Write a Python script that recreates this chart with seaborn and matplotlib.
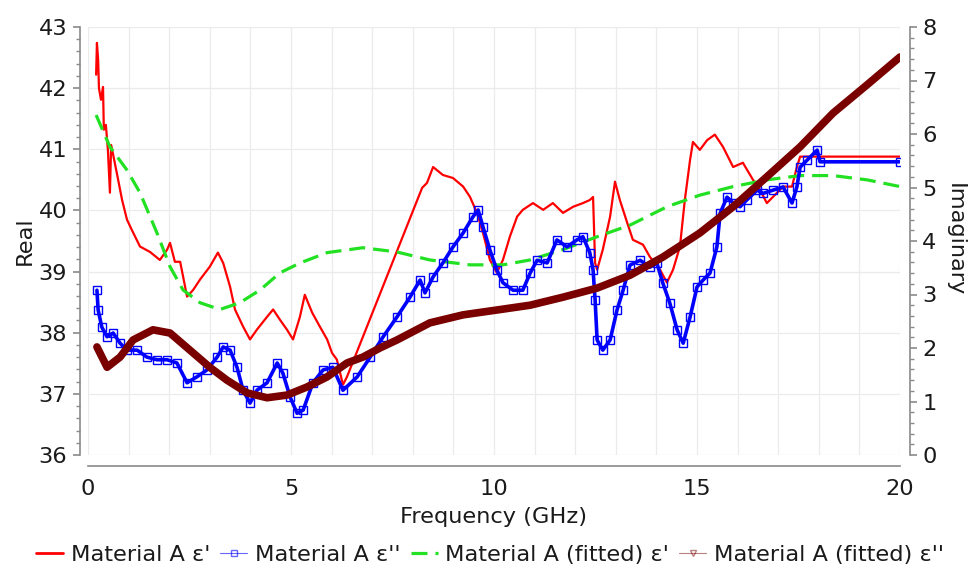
import matplotlib
matplotlib.use("Agg")
import matplotlib.pyplot as plt
from matplotlib.lines import Line2D
from matplotlib.ticker import MultipleLocator
import seaborn as sns

# Material A eps' (measured), left axis
freq_real = [0.20, 0.22, 0.25, 0.27, 0.32, 0.37, 0.39, 0.44, 0.49, 0.54, 0.57, 0.62,
             0.71, 0.84, 0.96, 1.08, 1.28, 1.53, 1.77, 1.95, 2.02, 2.14, 2.27, 2.44,
             2.59, 2.76, 3.00, 3.20, 3.33, 3.50, 3.62, 3.82, 3.99, 4.16, 4.41, 4.56,
             4.73, 4.90, 5.05, 5.22, 5.34, 5.52, 5.71, 5.89, 6.01, 6.13, 6.28, 6.38,
             8.23, 8.35, 8.50, 8.74, 8.99, 9.24, 9.41, 9.58, 9.73, 9.90, 10.07, 10.22,
             10.39, 10.57, 10.71, 10.96, 11.21, 11.45, 11.70, 11.95, 12.19, 12.36, 12.44,
             12.49, 12.54, 12.68, 12.86, 12.98, 13.10, 13.28, 13.42, 13.67, 13.84, 14.09,
             14.26, 14.41, 14.58, 14.70, 14.83, 14.90, 15.07, 15.25, 15.44, 15.64, 15.89,
             16.13, 16.38, 16.55, 16.72, 16.87, 17.12, 17.34, 17.46, 17.54, 20.00]
eps_real = [42.22, 42.74, 42.46, 42.00, 41.81, 42.02, 41.32, 41.40, 40.99, 40.29, 41.07, 40.91,
            40.61, 40.17, 39.85, 39.68, 39.41, 39.32, 39.19, 39.36, 39.47, 39.16, 39.16, 38.59,
            38.70, 38.87, 39.08, 39.31, 39.14, 38.75, 38.38, 38.10, 37.89, 38.05, 38.26, 38.38,
            38.21, 38.05, 37.89, 38.26, 38.62, 38.33, 38.10, 37.89, 37.67, 37.56, 37.15, 37.28,
            40.37, 40.45, 40.71, 40.58, 40.53, 40.39, 40.22, 39.96, 39.63, 39.19, 38.98, 39.19,
            39.57, 39.90, 40.01, 40.12, 40.01, 40.12, 39.96, 40.06, 40.12, 40.17, 40.22,
            39.14, 39.03, 39.36, 39.90, 40.47, 40.17, 39.80, 39.52, 39.44, 39.24, 39.03,
            38.82, 39.03, 39.41, 40.17, 40.83, 41.12, 40.99, 41.15, 41.24, 41.04, 40.71,
            40.78, 40.50, 40.34, 40.12, 40.22, 40.39, 40.39, 40.71, 40.88, 40.88]

# Material A eps'' (measured), right axis
freq_imag = [0.22, 0.25, 0.34, 0.47, 0.62, 0.79, 0.96, 1.21, 1.45, 1.70, 1.95, 2.19,
             2.44, 2.68, 2.93, 3.18, 3.33, 3.50, 3.67, 3.82, 3.99, 4.16, 4.41, 4.66,
             4.80, 4.98, 5.15, 5.30, 5.54, 5.79, 6.03, 6.28, 6.63, 6.95, 7.27, 7.61,
             7.93, 8.18, 8.30, 8.50, 8.74, 8.99, 9.24, 9.48, 9.61, 9.73, 9.90, 10.07,
             10.22, 10.47, 10.71, 10.89, 11.06, 11.31, 11.55, 11.80, 12.04, 12.19, 12.36,
             12.44, 12.49, 12.54, 12.68, 12.86, 13.03, 13.18, 13.35, 13.60, 13.84, 14.01,
             14.16, 14.33, 14.51, 14.66, 14.83, 15.00, 15.15, 15.32, 15.49, 15.57, 15.74,
             15.89, 16.06, 16.23, 16.48, 16.63, 16.87, 17.12, 17.34, 17.46, 17.54, 17.71,
             17.96, 18.03, 20.00]
eps_imag = [3.08, 2.71, 2.39, 2.21, 2.28, 2.09, 1.96, 1.96, 1.83, 1.78, 1.78, 1.72,
            1.35, 1.46, 1.59, 1.83, 2.02, 1.96, 1.64, 1.21, 0.97, 1.21, 1.35, 1.72,
            1.53, 1.08, 0.78, 0.84, 1.35, 1.59, 1.64, 1.21, 1.46, 1.83, 2.21, 2.58,
            2.95, 3.27, 3.03, 3.33, 3.59, 3.89, 4.15, 4.45, 4.58, 4.26, 3.83, 3.46,
            3.22, 3.08, 3.08, 3.40, 3.64, 3.59, 4.02, 3.89, 4.02, 4.08, 3.78,
            3.46, 2.90, 2.15, 1.96, 2.15, 2.71, 3.08, 3.55, 3.64, 3.51, 3.59,
            3.21, 2.84, 2.34, 2.09, 2.58, 3.14, 3.27, 3.40, 3.89, 4.52, 4.82,
            4.71, 4.64, 4.77, 4.95, 4.89, 4.95, 5.01, 4.71, 5.01, 5.38, 5.51,
            5.70, 5.48, 5.48]

# Material A (fitted) eps', left axis
freq_fit_real = [0.20, 0.54, 0.96, 1.28, 1.70, 2.02, 2.34, 2.76, 3.25, 3.74, 4.24, 4.73,
                 5.22, 5.89, 6.77, 7.61, 8.42, 9.41, 10.22, 10.89, 11.70, 12.54, 13.35,
                 14.26, 15.07, 15.89, 16.72, 17.54, 18.35, 19.19, 20.00]
fit_real = [41.56, 41.04, 40.66, 40.29, 39.63, 39.08, 38.70, 38.49, 38.38, 38.49, 38.70, 38.98,
            39.14, 39.31, 39.39, 39.32, 39.19, 39.11, 39.11, 39.19, 39.36, 39.57, 39.76,
            40.06, 40.25, 40.39, 40.50, 40.57, 40.57, 40.50, 40.39]

# Material A (fitted) eps'', right axis
freq_fit_imag = [0.22, 0.47, 0.79, 1.11, 1.60, 2.02, 2.51, 3.00, 3.42, 3.92, 4.41, 4.90,
                 5.39, 5.89, 6.38, 6.77, 7.19, 7.61, 8.42, 9.24, 10.07, 10.89, 11.70,
                 12.54, 13.35, 14.16, 15.07, 15.89, 16.72, 17.54, 18.35, 19.19, 20.00]
fit_imag = [2.02, 1.64, 1.83, 2.15, 2.34, 2.28, 1.96, 1.64, 1.40, 1.16, 1.07, 1.12,
            1.27, 1.46, 1.72, 1.83, 2.00, 2.15, 2.47, 2.62, 2.71, 2.80, 2.95,
            3.12, 3.36, 3.70, 4.15, 4.64, 5.20, 5.76, 6.39, 6.92, 7.44]

labels = ["Material A \u03b5'", "Material A \u03b5''",
          "Material A (fitted) \u03b5'", "Material A (fitted) \u03b5''"]

sns.set_style("white")
plt.rcParams['font.family'] = ['DejaVu Sans']

W, H = 971, 581
fig = plt.figure(figsize=(W / 100, H / 100), dpi=100)
ax = fig.add_axes([88 / W, 1 - 455 / H, (900 - 88) / W, (455 - 27) / H])
ax2 = ax.twinx()

red = '#ff0000'
blue = '#0000ff'
green = '#22e022'
brown = '#7a0000'
dash = (0, (5, 2.5))

sns.lineplot(x=freq_real, y=eps_real, ax=ax, color=red, lw=1.6, estimator=None, sort=False)
sns.lineplot(x=freq_fit_real, y=fit_real, ax=ax, color=green, lw=2.3, estimator=None,
             sort=False, linestyle=dash)
sns.lineplot(x=freq_imag, y=eps_imag, ax=ax2, color=blue, lw=2.6, estimator=None, sort=False,
             marker='s', markersize=5.5, markerfacecolor='none', markeredgecolor=blue,
             markeredgewidth=1)
sns.lineplot(x=freq_fit_imag, y=fit_imag, ax=ax2, color=brown, lw=5.5, estimator=None,
             sort=False, solid_capstyle='round', solid_joinstyle='round')

ax.set_xlim(0, 20)
ax.set_ylim(36, 43)
ax2.set_ylim(0, 8)

ax.xaxis.set_major_locator(MultipleLocator(5))
ax.xaxis.set_minor_locator(MultipleLocator(1))
ax.yaxis.set_major_locator(MultipleLocator(1))
ax.yaxis.set_minor_locator(MultipleLocator(0.2))
ax2.yaxis.set_major_locator(MultipleLocator(1))
ax2.yaxis.set_minor_locator(MultipleLocator(0.2))

ax.set_axisbelow(True)
ax.grid(axis='x', which='both', color='#ebebeb', lw=0.9)
ax.grid(axis='y', which='major', color='#ebebeb', lw=0.9)
ax2.grid(False)

spine_col = '#8a8a8a'
for a in (ax, ax2):
    for s in a.spines.values():
        s.set_visible(False)
ax.spines['left'].set_visible(True)
ax.spines['bottom'].set_visible(True)
ax2.spines['right'].set_visible(True)
ax.spines['left'].set_position(('outward', 6))
ax.spines['bottom'].set_position(('outward', 8))
ax2.spines['right'].set_position(('outward', 7))
for s in (ax.spines['left'], ax.spines['bottom'], ax2.spines['right']):
    s.set_color(spine_col)
    s.set_linewidth(1.2)

fs = 16.2
tick_kw = dict(colors=spine_col, labelcolor='#1a1a1a', direction='out')
ax.tick_params(axis='both', which='major', length=5, width=1.2, labelsize=fs, **tick_kw)
ax.tick_params(axis='both', which='minor', length=3, width=1, **tick_kw)
ax2.tick_params(axis='y', which='major', length=5, width=1.2, labelsize=fs, **tick_kw)
ax2.tick_params(axis='y', which='minor', length=3, width=1, **tick_kw)
ax.tick_params(axis='x', which='major', pad=4)
ax.tick_params(axis='y', which='major', pad=4)
ax2.tick_params(axis='y', which='major', pad=4)

ax.set_xlabel('')
ax.set_ylabel('')
ax2.set_ylabel('')
fig.text(25 / W, 1 - 241 / H, 'Real', rotation=90, ha='center', va='center',
         fontsize=fs, color='#1a1a1a')
fig.text(955 / W, 1 - 240 / H, 'Imaginary', rotation=270, ha='center', va='center',
         fontsize=fs, color='#1a1a1a')
fig.text(494 / W, 1 - 517 / H, 'Frequency (GHz)', ha='center', va='center',
         fontsize=fs, color='#1a1a1a')

handles = [
    Line2D([], [], color=red, lw=2),
    Line2D([], [], color=blue, lw=0.8, alpha=0.6, marker='s', markersize=5,
           markerfacecolor='none', markeredgecolor=blue),
    Line2D([], [], color=green, lw=2.3, linestyle=dash),
    Line2D([], [], color=brown, lw=0.8, alpha=0.5, marker='v', markersize=5,
           markerfacecolor='none', markeredgecolor=brown),
]
fig.legend(handles, labels, loc='center', bbox_to_anchor=(490 / W, 1 - 555 / H), ncol=4,
           frameon=False, fontsize=fs, handlelength=1.2, handletextpad=0.35,
           columnspacing=0.45, labelcolor='#1a1a1a')

fig.savefig('out.png', dpi=100)
